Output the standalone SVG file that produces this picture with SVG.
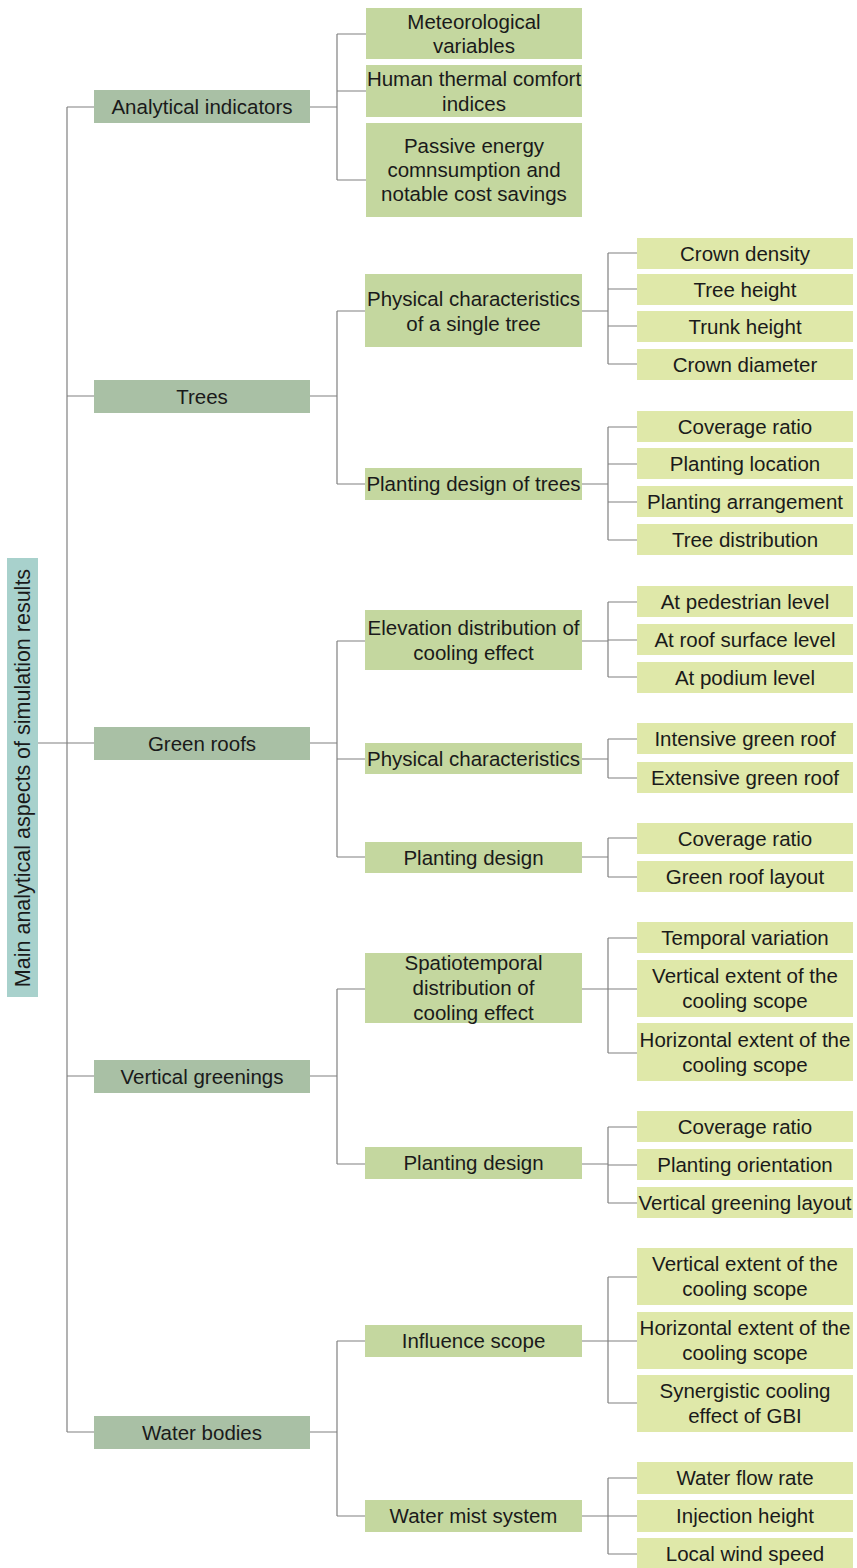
<svg xmlns="http://www.w3.org/2000/svg" width="857" height="1568" viewBox="0 0 857 1568">
<style>
.root{fill:#a8d1cc}
.l1{fill:#a9c0a5}
.l2{fill:#c4d79f}
.l3{fill:#dfe8a9}
text{font-family:"Liberation Sans",Arial,sans-serif;font-size:20.5px;fill:#1a1a1a;text-anchor:middle}
#root text{font-size:21.5px}
#connectors path{fill:none;stroke:#808080;stroke-width:1.2}
</style>
<rect width="857" height="1568" fill="#ffffff"/>
<g id="connectors">
<path d="M38 743H67M67 107V1432M67 107H94M67 396H94M67 743H94M67 1076H94M67 1432H94"/>
<path d="M310 107H337M337 34V180M337 34H366M337 91H366M337 180H366"/>
<path d="M310 396H337M337 311V484M337 311H365M337 484H365M582 311H608M582 484H608M608 253V364M608 253H637M608 289H637M608 326H637M608 364H637M608 427V540M608 427H637M608 464H637M608 502H637M608 540H637"/>
<path d="M310 743H337M337 641V857M337 641H365M337 759H365M337 857H365M582 641H608M582 759H608M582 857H608M608 602V677M608 602H637M608 640H637M608 677H637M608 739V778M608 739H637M608 778H637M608 838V877M608 838H637M608 877H637"/>
<path d="M310 1076H337M337 989V1164M337 989H365M337 1164H365M582 989H608M582 1164H608M608 938V1053M608 938H637M608 989H637M608 1053H637M608 1127V1203M608 1127H637M608 1165H637M608 1203H637"/>
<path d="M310 1432H337M337 1341V1516M337 1341H365M337 1516H365M582 1341H608M582 1516H608M608 1277V1403M608 1277H637M608 1341H637M608 1403H637M608 1478V1554M608 1478H637M608 1516H637M608 1554H637"/>
</g>
<g id="root"><rect class="root" x="7" y="558" width="31" height="439"/><text transform="translate(30 778) rotate(-90)">Main analytical aspects of simulation results</text></g>
<g id="analytical"><rect class="l1" x="94" y="90" width="216" height="33"/><text x="202" y="113.5">Analytical indicators</text></g>
<g id="trees"><rect class="l1" x="94" y="380" width="216" height="33"/><text x="202" y="403.5">Trees</text></g>
<g id="greenroofs"><rect class="l1" x="94" y="727" width="216" height="33"/><text x="202" y="750.5">Green roofs</text></g>
<g id="verticalgreenings"><rect class="l1" x="94" y="1060" width="216" height="33"/><text x="202" y="1083.5">Vertical greenings</text></g>
<g id="waterbodies"><rect class="l1" x="94" y="1416" width="216" height="33"/><text x="202" y="1439.5">Water bodies</text></g>
<g id="meteo"><rect class="l2" x="366" y="8" width="216" height="51"/><text x="474" y="28.5">Meteorological</text><text x="474" y="53">variables</text></g>
<g id="htci"><rect class="l2" x="366" y="65" width="216" height="52"/><text x="474" y="86">Human thermal comfort</text><text x="474" y="110.5">indices</text></g>
<g id="passive"><rect class="l2" x="366" y="123" width="216" height="94"/><text x="474" y="153">Passive energy</text><text x="474" y="177">comnsumption and</text><text x="474" y="201">notable cost savings</text></g>
<g id="physsingle"><rect class="l2" x="365" y="274" width="217" height="73"/><text x="473.5" y="306">Physical characteristics</text><text x="473.5" y="330.5">of a single tree</text></g>
<g id="plantingtrees"><rect class="l2" x="365" y="468" width="217" height="32"/><text x="473.5" y="491">Planting design of trees</text></g>
<g id="crowndensity"><rect class="l3" x="637" y="238" width="216" height="31"/><text x="745" y="260.5">Crown density</text></g>
<g id="treeheight"><rect class="l3" x="637" y="274" width="216" height="31"/><text x="745" y="296.5">Tree height</text></g>
<g id="trunkheight"><rect class="l3" x="637" y="311" width="216" height="31"/><text x="745" y="333.5">Trunk height</text></g>
<g id="crowndiameter"><rect class="l3" x="637" y="349" width="216" height="31"/><text x="745" y="371.5">Crown diameter</text></g>
<g id="coverage1"><rect class="l3" x="637" y="411" width="216" height="31"/><text x="745" y="433.5">Coverage ratio</text></g>
<g id="plantloc"><rect class="l3" x="637" y="448" width="216" height="31"/><text x="745" y="470.5">Planting location</text></g>
<g id="plantarr"><rect class="l3" x="637" y="486" width="216" height="31"/><text x="745" y="508.5">Planting arrangement</text></g>
<g id="treedist"><rect class="l3" x="637" y="524" width="216" height="31"/><text x="745" y="546.5">Tree distribution</text></g>
<g id="elevation"><rect class="l2" x="365" y="610" width="217" height="60"/><text x="473.5" y="635">Elevation distribution of</text><text x="473.5" y="659.5">cooling effect</text></g>
<g id="physchar"><rect class="l2" x="365" y="743" width="217" height="31"/><text x="473.5" y="765.5">Physical characteristics</text></g>
<g id="plantgr"><rect class="l2" x="365" y="842" width="217" height="31"/><text x="473.5" y="864.5">Planting design</text></g>
<g id="pedestrian"><rect class="l3" x="637" y="586" width="216" height="31"/><text x="745" y="608.5">At pedestrian level</text></g>
<g id="roofsurface"><rect class="l3" x="637" y="624" width="216" height="31"/><text x="745" y="646.5">At roof surface level</text></g>
<g id="podium"><rect class="l3" x="637" y="662" width="216" height="31"/><text x="745" y="684.5">At podium level</text></g>
<g id="intensive"><rect class="l3" x="637" y="723" width="216" height="31"/><text x="745" y="745.5">Intensive green roof</text></g>
<g id="extensive"><rect class="l3" x="637" y="762" width="216" height="31"/><text x="745" y="784.5">Extensive green roof</text></g>
<g id="coverage2"><rect class="l3" x="637" y="823" width="216" height="31"/><text x="745" y="845.5">Coverage ratio</text></g>
<g id="grlayout"><rect class="l3" x="637" y="861" width="216" height="31"/><text x="745" y="883.5">Green roof layout</text></g>
<g id="spatio"><rect class="l2" x="365" y="953" width="217" height="70"/><text x="473.5" y="970">Spatiotemporal</text><text x="473.5" y="995">distribution of</text><text x="473.5" y="1020">cooling effect</text></g>
<g id="plantvg"><rect class="l2" x="365" y="1147" width="217" height="32"/><text x="473.5" y="1170">Planting design</text></g>
<g id="temporal"><rect class="l3" x="637" y="922" width="216" height="31"/><text x="745" y="944.5">Temporal variation</text></g>
<g id="vext1"><rect class="l3" x="637" y="960" width="216" height="57"/><text x="745" y="983">Vertical extent of the</text><text x="745" y="1007.5">cooling scope</text></g>
<g id="hext1"><rect class="l3" x="637" y="1023" width="216" height="58"/><text x="745" y="1047">Horizontal extent of the</text><text x="745" y="1071.5">cooling scope</text></g>
<g id="coverage3"><rect class="l3" x="637" y="1111" width="216" height="31"/><text x="745" y="1133.5">Coverage ratio</text></g>
<g id="orient"><rect class="l3" x="637" y="1149" width="216" height="31"/><text x="745" y="1171.5">Planting orientation</text></g>
<g id="vglayout"><rect class="l3" x="637" y="1187" width="216" height="31"/><text x="745" y="1209.5">Vertical greening layout</text></g>
<g id="influence"><rect class="l2" x="365" y="1325" width="217" height="32"/><text x="473.5" y="1348">Influence scope</text></g>
<g id="mist"><rect class="l2" x="365" y="1500" width="217" height="32"/><text x="473.5" y="1523">Water mist system</text></g>
<g id="vext2"><rect class="l3" x="637" y="1248" width="216" height="57"/><text x="745" y="1271">Vertical extent of the</text><text x="745" y="1295.5">cooling scope</text></g>
<g id="hext2"><rect class="l3" x="637" y="1312" width="216" height="57"/><text x="745" y="1335">Horizontal extent of the</text><text x="745" y="1359.5">cooling scope</text></g>
<g id="synergy"><rect class="l3" x="637" y="1375" width="216" height="57"/><text x="745" y="1398">Synergistic cooling</text><text x="745" y="1422.5">effect of GBI</text></g>
<g id="flowrate"><rect class="l3" x="637" y="1462" width="216" height="32"/><text x="745" y="1485">Water flow rate</text></g>
<g id="injection"><rect class="l3" x="637" y="1500" width="216" height="32"/><text x="745" y="1523">Injection height</text></g>
<g id="wind"><rect class="l3" x="637" y="1538" width="216" height="30"/><text x="745" y="1561">Local wind speed</text></g>
</svg>
